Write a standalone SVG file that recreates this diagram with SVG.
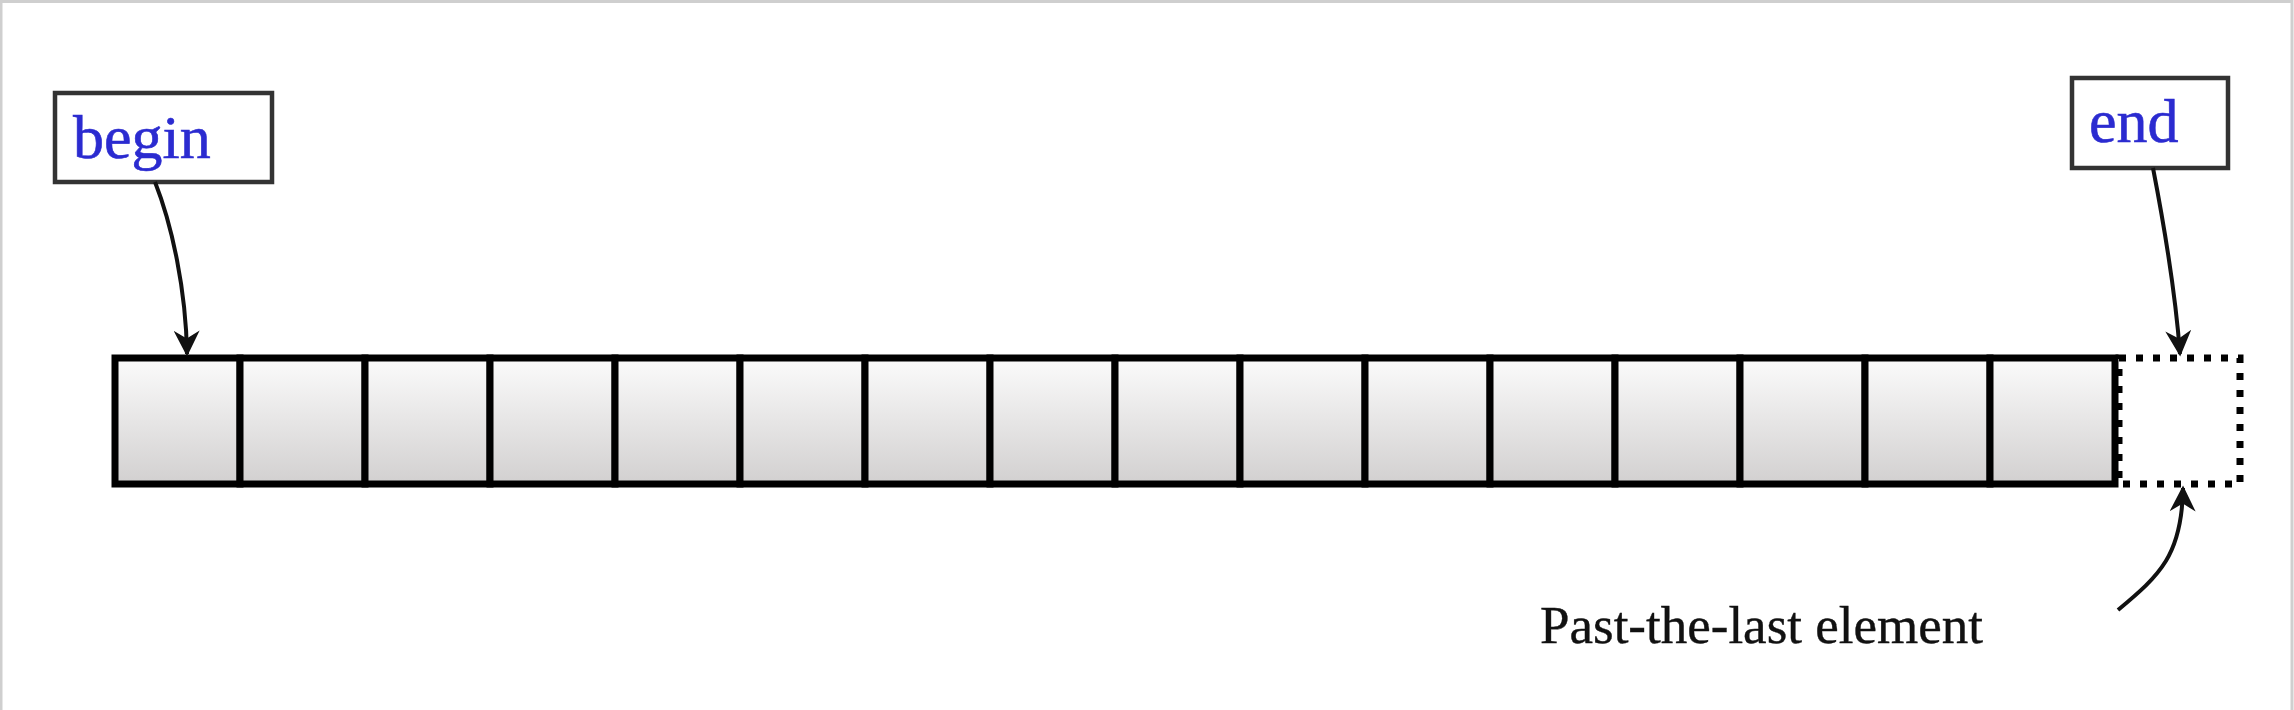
<svg xmlns="http://www.w3.org/2000/svg" width="2294" height="710" viewBox="0 0 2294 710">
<style>
.box{fill:#fff;stroke:#333;stroke-width:4.5}
.lbl{font-family:"Liberation Serif",serif;font-size:62px;fill:#2b2bd0;stroke:#2b2bd0;stroke-width:0.6}
.cell{fill:url(#g);stroke:#000;stroke-width:7}
.conn{fill:none;stroke:#111;stroke-width:4}
.dot{fill:none;stroke:#000;stroke-width:7;stroke-dasharray:7 10}
</style>
<defs>
<linearGradient id="g" x1="0" y1="0" x2="0" y2="1">
<stop offset="0" stop-color="#fbfbfb"/>
<stop offset="1" stop-color="#d2d0d0"/>
</linearGradient>
<marker id="ah" viewBox="0 0 10 10" refX="9" refY="5" markerWidth="7" markerHeight="6.5" orient="auto" markerUnits="strokeWidth">
<path d="M0,0 L10,5 L0,10 L3,5 Z" fill="#111"/>
</marker>
</defs>
<rect x="0" y="0" width="2294" height="710" fill="#fff"/>
<rect x="1" y="1.5" width="2291" height="720" fill="none" stroke="#cfcfcf" stroke-width="3"/>
<g id="array">
<rect class="cell" x="115" y="358" width="125" height="126"/>
<rect class="cell" x="240" y="358" width="125" height="126"/>
<rect class="cell" x="365" y="358" width="125" height="126"/>
<rect class="cell" x="490" y="358" width="125" height="126"/>
<rect class="cell" x="615" y="358" width="125" height="126"/>
<rect class="cell" x="740" y="358" width="125" height="126"/>
<rect class="cell" x="865" y="358" width="125" height="126"/>
<rect class="cell" x="990" y="358" width="125" height="126"/>
<rect class="cell" x="1115" y="358" width="125" height="126"/>
<rect class="cell" x="1240" y="358" width="125" height="126"/>
<rect class="cell" x="1365" y="358" width="125" height="126"/>
<rect class="cell" x="1490" y="358" width="125" height="126"/>
<rect class="cell" x="1615" y="358" width="125" height="126"/>
<rect class="cell" x="1740" y="358" width="125" height="126"/>
<rect class="cell" x="1865" y="358" width="125" height="126"/>
<rect class="cell" x="1990" y="358" width="125" height="126"/>
</g>
<g id="past-end">
<rect class="dot" x="2119" y="358" width="121" height="126"/>
</g>
<g id="begin">
<rect class="box" x="55" y="93" width="217" height="89"/>
<text class="lbl" x="73" y="158">begin</text>
</g>
<g id="end">
<rect class="box" x="2072" y="78" width="156" height="90"/>
<text class="lbl" x="2089" y="142">end</text>
</g>
<g id="label">
<text x="1540" y="643" font-family="Liberation Serif, serif" font-size="53" fill="#111" stroke="#111" stroke-width="0.4">Past-the-last element</text>
</g>
<g id="connectors">
<path class="conn" d="M155,182 C172,225 186,290 187,354" marker-end="url(#ah)"/>
<path class="conn" d="M2153,168 C2165,230 2176,300 2180,354" marker-end="url(#ah)"/>
<path class="conn" d="M2118,610 C2160,575 2182,555 2183,488" marker-end="url(#ah)"/>
</g>
</svg>
